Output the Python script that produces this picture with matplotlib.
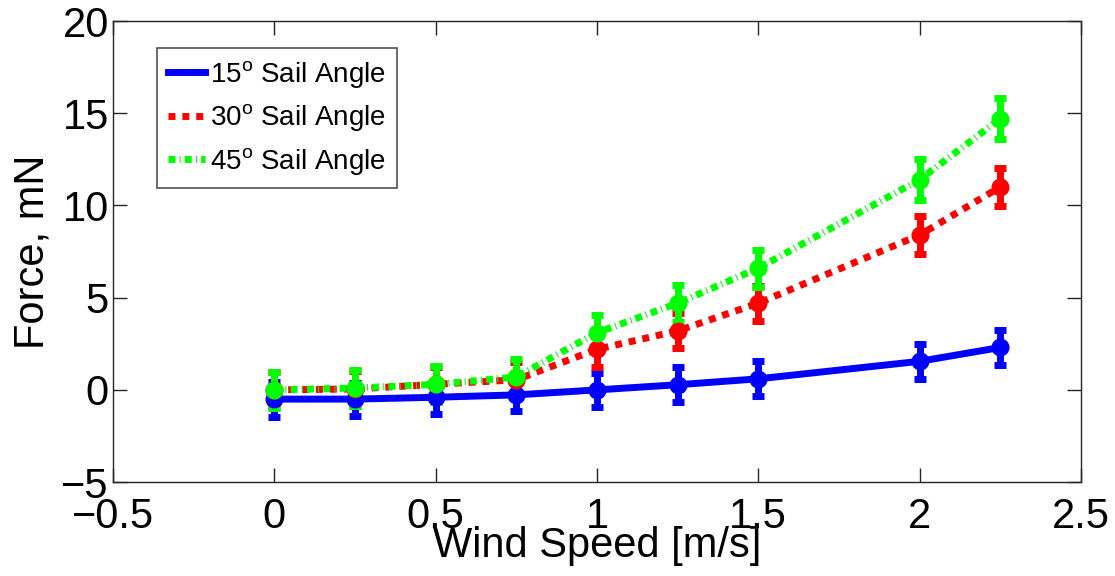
import matplotlib
matplotlib.use("Agg")
import matplotlib.pyplot as plt

plt.rcParams['font.family'] = ['Liberation Sans', 'DejaVu Sans']
plt.rcParams['mathtext.fontset'] = 'custom'
plt.rcParams['mathtext.rm'] = 'Liberation Sans'
plt.rcParams['mathtext.it'] = 'Liberation Sans'

wind_speed = [0, 0.25, 0.5, 0.75, 1.0, 1.25, 1.5, 2.0, 2.25]

force_15 = [-0.5, -0.5, -0.4, -0.27, 0.0, 0.28, 0.6, 1.55, 2.3]
force_30 = [0.0, 0.05, 0.3, 0.55, 2.2, 3.2, 4.7, 8.4, 11.0]
force_45 = [0.0, 0.1, 0.3, 0.7, 3.1, 4.7, 6.6, 11.4, 14.7]

err_15 = [0.95, 0.9, 0.9, 0.9, 0.92, 0.95, 0.95, 0.95, 0.95]
err_30 = [0.95, 0.95, 0.95, 0.95, 0.95, 0.95, 0.95, 1.05, 1.05]
err_45 = [0.98, 0.98, 0.98, 1.0, 0.95, 1.0, 1.0, 1.1, 1.1]

labels = ['15$^{\\rm o}$ Sail Angle', '30$^{\\rm o}$ Sail Angle', '45$^{\\rm o}$ Sail Angle']

fig = plt.figure(figsize=(11.15, 5.76), dpi=100)
ax = fig.add_axes([0.1013, 0.163, 0.8682, 0.8005])

series = [
    (force_15, err_15, '#0000ff', '-', labels[0]),
    (force_30, err_30, '#ff0000', (0, (1.0, 1.0)), labels[1]),
    (force_45, err_45, '#00ff00', (0, (1.0, 0.6, 0.15, 0.6)), labels[2]),
]

handles = []
for y, e, c, ls, lab in series:
    ax.errorbar(wind_speed, y, yerr=e, fmt='none', ecolor=c, elinewidth=5,
                capsize=4.5, capthick=5, zorder=2)
    ax.plot(wind_speed, y, 'o', color=c, markersize=12, zorder=3)
    h, = ax.plot(wind_speed, y, color=c, linestyle=ls, linewidth=5,
                 label=lab, zorder=3, dash_capstyle='butt')
    handles.append(h)

ax.set_xlim(-0.5, 2.5)
ax.set_ylim(-5, 20)
ax.set_xticks([-0.5, 0, 0.5, 1, 1.5, 2, 2.5])
ax.set_xticklabels(['\u22120.5', '0', '0.5', '1', '1.5', '2', '2.5'])
ax.set_yticks([-5, 0, 5, 10, 15, 20])
ax.set_yticklabels(['\u22125', '0', '5', '10', '15', '20'])
ax.tick_params(direction='in', length=10, width=1, labelsize=30,
               top=True, right=True, colors='#262626', labelcolor='black')
ax.tick_params(axis='x', pad=11)
ax.tick_params(axis='y', pad=3)
for sp in ax.spines.values():
    sp.set_color('#262626')
    sp.set_linewidth(1)

ax.set_xlabel('Wind Speed [m/s]', fontsize=30, labelpad=-8)
ax.set_ylabel('Force, mN', fontsize=30, labelpad=6)

leg = ax.legend(handles=handles, loc='upper left', bbox_to_anchor=(0.045, 0.942),
                fontsize=20, frameon=True, fancybox=False, handlelength=1.33,
                handletextpad=0.18, borderpad=0.4, labelspacing=0.45,
                borderaxespad=0)
leg.get_frame().set_edgecolor('#262626')
leg.get_frame().set_linewidth(1.2)

fig.savefig('out.png', dpi=100)
